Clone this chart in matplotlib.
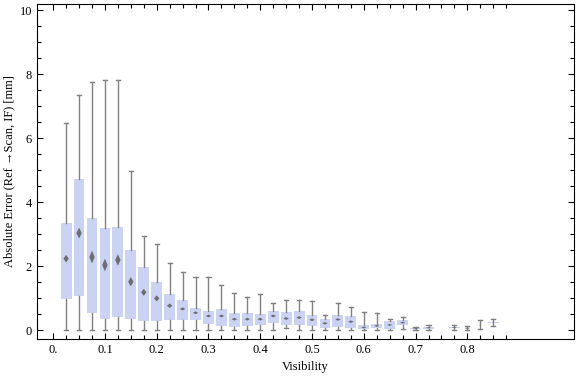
import numpy as np
import matplotlib.pyplot as plt
from matplotlib.patches import Polygon
from matplotlib.ticker import FixedLocator

plt.rcParams['font.family'] = ['Liberation Serif', 'DejaVu Serif']
plt.rcParams['font.size'] = 9

# box-whisker summary per visibility bin (0.75 bin has no data)
visibility = [0.025, 0.05, 0.075, 0.1, 0.125, 0.15, 0.175, 0.2, 0.225, 0.25,
              0.275, 0.3, 0.325, 0.35, 0.375, 0.4, 0.425, 0.45, 0.475, 0.5,
              0.525, 0.55, 0.575, 0.6, 0.625, 0.65, 0.675, 0.7, 0.725,
              0.775, 0.8, 0.825, 0.85]
whisker_lo = [0, 0, 0, 0, 0, 0, 0, 0, 0, 0,
              0, 0, 0, 0, 0, 0, 0, 0.05, 0.01, 0,
              0, 0, 0, 0, 0, 0, 0.04, 0, 0,
              0.01, 0, 0.04, 0.14]
q1 = [0.98, 1.06, 0.52, 0.35, 0.42, 0.35, 0.29, 0.29, 0.32, 0.32,
      0.30, 0.20, 0.13, 0.09, 0.13, 0.16, 0.21, 0.17, 0.16, 0.13,
      0.07, 0.11, 0.06, 0.02, 0.07, 0.03, 0.15, 0.03, 0.04,
      0.07, 0.05, 0.16, 0.23]
median = [2.23, 3.03, 2.28, 2.03, 2.19, 1.51, 1.18, 0.99, 0.76, 0.66,
          0.54, 0.44, 0.44, 0.34, 0.34, 0.34, 0.44, 0.36, 0.39, 0.32,
          0.21, 0.33, 0.26, 0.08, 0.13, 0.16, 0.23, 0.04, 0.07,
          0.08, 0.06, 0.16, 0.24]
q3 = [3.34, 4.72, 3.50, 3.18, 3.22, 2.50, 1.97, 1.50, 1.12, 0.94,
      0.69, 0.59, 0.66, 0.54, 0.54, 0.51, 0.59, 0.56, 0.59, 0.46,
      0.35, 0.46, 0.44, 0.16, 0.20, 0.29, 0.31, 0.06, 0.10,
      0.09, 0.07, 0.17, 0.25]
whisker_hi = [6.46, 7.36, 7.74, 7.83, 7.80, 4.96, 2.93, 2.68, 2.11, 1.80,
              1.65, 1.65, 1.41, 1.15, 1.02, 1.12, 0.86, 0.93, 0.93, 0.90,
              0.46, 0.84, 0.72, 0.55, 0.52, 0.36, 0.41, 0.11, 0.16,
              0.16, 0.14, 0.30, 0.35]
median_ci = [0.12, 0.17, 0.20, 0.20, 0.18, 0.145, 0.11, 0.094, 0.07, 0.05,
             0.045, 0.045, 0.045, 0.045, 0.045, 0.045, 0.045, 0.045, 0.045, 0.045,
             0.04, 0.04, 0.04, 0.03, 0.03, 0.03, 0.03, 0.02, 0.02,
             0.02, 0.02, 0.0, 0.0]

box_color = '#cbd3f4'
line_color = '#808080'
diamond_color = '#6e6e6e'

fig = plt.figure(figsize=(5.76, 3.77), dpi=100)
ax = fig.add_axes([0.064, 0.1008, 0.9325, 0.8886])

stats = []
for lo, a, m, b, hi in zip(whisker_lo, q1, median, q3, whisker_hi):
    stats.append(dict(whislo=lo, q1=a, med=m, q3=b, whishi=hi, fliers=[]))

ax.bxp(stats, positions=visibility, widths=0.021, capwidths=0.008,
       patch_artist=True, showfliers=False, manage_ticks=False,
       boxprops=dict(facecolor=box_color, edgecolor='none', linewidth=0),
       whiskerprops=dict(color=line_color, linewidth=1),
       capprops=dict(color=line_color, linewidth=1),
       medianprops=dict(linewidth=0))

hw = 0.0052
for x, m, h in zip(visibility, median, median_ci):
    if h <= 0:
        continue
    ax.add_patch(Polygon([(x - hw, m), (x, m + h), (x + hw, m), (x, m - h)],
                         closed=True, facecolor=diamond_color,
                         edgecolor='none', zorder=3))

ax.set_xlim(-0.0315, 1.006)
ax.set_ylim(-0.28, 10.19)

ax.set_xticks(np.arange(0, 0.81, 0.1))
ax.set_xticklabels(['0.', '0.1', '0.2', '0.3', '0.4', '0.5', '0.6', '0.7', '0.8'])
ax.xaxis.set_minor_locator(FixedLocator(np.arange(0, 0.876, 0.025)))
ax.set_yticks(np.arange(0, 11, 2))
ax.yaxis.set_minor_locator(FixedLocator(np.arange(0, 10.01, 0.5)))

ax.tick_params(which='both', direction='in', top=True, right=True,
               color='black', width=0.8)
ax.tick_params(which='major', length=4, pad=3.5)
ax.tick_params(which='minor', length=2.8)
for s in ax.spines.values():
    s.set_linewidth(0.8)

ax.set_xlabel('Visibility', labelpad=4)
ax.set_ylabel('Absolute Error (Ref \u2192Scan, IF) [mm]', labelpad=3)

fig.savefig('out.png', dpi=100)
